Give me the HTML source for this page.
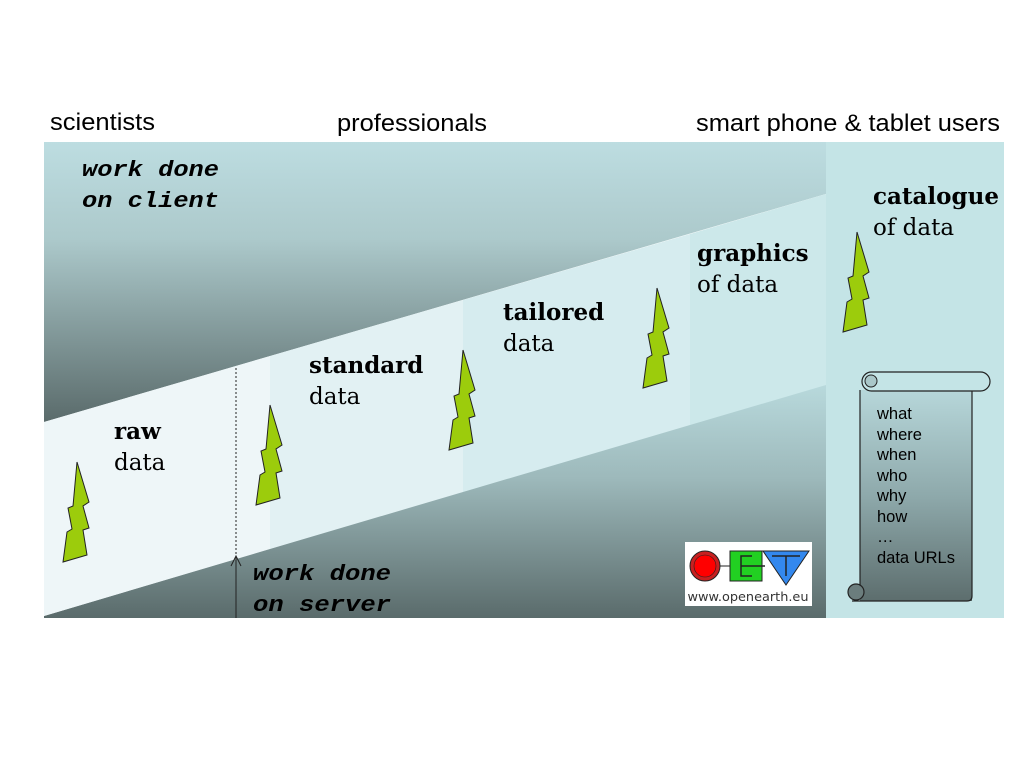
<!DOCTYPE html>
<html><head><meta charset="utf-8"><style>
body{margin:0;width:1024px;height:768px;background:#fff;overflow:hidden}
svg{display:block}
.h{font-family:"Liberation Sans",sans-serif;font-size:24px;fill:#000}
.m{font-family:"Liberation Mono",monospace;font-size:22px;font-weight:bold;font-style:italic;fill:#000}
.s{font-family:"DejaVu Serif","Liberation Serif",serif;font-size:23px;fill:#000}
.b{font-weight:bold}
.sc{font-family:"Liberation Sans",sans-serif;font-size:16.5px;fill:#000}
</style></head><body>
<svg width="1024" height="768" viewBox="0 0 1024 768">
<defs>
<linearGradient id="gu" x1="0" y1="142" x2="0" y2="420" gradientUnits="userSpaceOnUse">
<stop offset="0" stop-color="#bddde1"/><stop offset="0.35" stop-color="#acc9cb"/><stop offset="1" stop-color="#5b6c6c"/></linearGradient>
<linearGradient id="gl" x1="0" y1="385" x2="0" y2="618" gradientUnits="userSpaceOnUse">
<stop offset="0" stop-color="#b8d9dc"/><stop offset="0.4" stop-color="#9db9bb"/><stop offset="1" stop-color="#5a6b6b"/></linearGradient>
<linearGradient id="gs" x1="0" y1="392" x2="0" y2="600" gradientUnits="userSpaceOnUse">
<stop offset="0" stop-color="#b6d6d9"/><stop offset="0.5" stop-color="#8ea9ab"/><stop offset="1" stop-color="#5d6e6e"/></linearGradient>
<polygon id="z" points="0,0 12,40 6,44 12,66 6,68 10,93 -14,100 -10,70 -5,67 -9,46 -4,44" fill="#9ccc0c" stroke="#222" stroke-width="1"/>
</defs>
<text class="h" x="50" y="130" textLength="105" lengthAdjust="spacingAndGlyphs">scientists</text>
<text class="h" x="337" y="131" textLength="150" lengthAdjust="spacingAndGlyphs">professionals</text>
<text class="h" x="696" y="131" textLength="304" lengthAdjust="spacingAndGlyphs">smart phone &amp; tablet users</text>

<polygon points="44,142 1004,142 44,422" fill="url(#gu)"/>
<polygon points="44,618 1004,618 1004,330 44,616" fill="url(#gl)"/>
<polygon points="44,422 270,356 270,549 44,616" fill="#eef6f8"/>
<polygon points="270,356 463,300 463,492 270,549" fill="#e2f1f3"/>
<polygon points="463,300 690,234 690,425 463,492" fill="#d6ecef"/>
<polygon points="690,234 826,194 826,385 690,425" fill="#cce8ea"/>
<rect x="826" y="142" width="178" height="476" fill="#c4e4e6"/>

<line x1="236" y1="368" x2="236" y2="556" stroke="#222" stroke-width="1" stroke-dasharray="2,2"/>
<line x1="236" y1="556" x2="236" y2="618" stroke="#222" stroke-width="1"/>
<polyline points="231,566 236,556 241,566" fill="none" stroke="#222" stroke-width="1"/>

<text class="m" x="82" y="176" textLength="137" lengthAdjust="spacingAndGlyphs">work done</text>
<text class="m" x="82" y="207" textLength="137" lengthAdjust="spacingAndGlyphs">on client</text>
<text class="m" x="253" y="580" textLength="138" lengthAdjust="spacingAndGlyphs">work done</text>
<text class="m" x="253" y="611" textLength="138" lengthAdjust="spacingAndGlyphs">on server</text>

<text class="s b" x="114" y="439">raw</text><text class="s" x="114" y="470">data</text>
<text class="s b" x="309" y="373">standard</text><text class="s" x="309" y="404">data</text>
<text class="s b" x="503" y="320">tailored</text><text class="s" x="503" y="351">data</text>
<text class="s b" x="697" y="261">graphics</text><text class="s" x="697" y="292">of data</text>
<text class="s b" x="873" y="204">catalogue</text><text class="s" x="873" y="235">of data</text>

<use href="#z" x="77" y="462"/>
<use href="#z" x="270" y="405"/>
<use href="#z" x="463" y="350"/>
<use href="#z" x="657" y="288"/>
<use href="#z" x="857" y="232"/>

<!-- scroll -->
<rect x="860" y="390" width="112" height="211" fill="url(#gs)"/>
<path d="M860,390 L860,586 M972,390 L972,596 Q972,601 967,601 L852,601" fill="none" stroke="#222" stroke-width="1.2"/>
<rect x="862" y="372" width="128" height="19" rx="9.5" fill="#c4e4e6" stroke="#222" stroke-width="1.2"/>
<circle cx="871" cy="381" r="6" fill="#aac7c9" stroke="#222"/>
<circle cx="856" cy="592" r="8" fill="#6b7d7d" stroke="#222" stroke-width="1.2"/>
<text class="sc" x="877" y="419">what</text>
<text class="sc" x="877" y="440">where</text>
<text class="sc" x="877" y="460">when</text>
<text class="sc" x="877" y="481">who</text>
<text class="sc" x="877" y="501">why</text>
<text class="sc" x="877" y="522">how</text>
<text class="sc" x="877" y="542">…</text>
<text class="sc" x="877" y="563">data URLs</text>

<!-- logo -->
<rect x="685" y="542" width="127" height="64" fill="#fff"/>
<circle cx="705" cy="566" r="15" fill="#c82020" stroke="#222"/>
<circle cx="705" cy="566" r="11" fill="#f00" stroke="#222" stroke-width="0.6"/>
<line x1="720" y1="566" x2="730" y2="566" stroke="#222"/>
<rect x="730" y="551" width="32" height="30" fill="#22d022" stroke="#222"/>
<path d="M752,556 L741,556 L741,576 L752,576 M741,566 L765,566" fill="none" stroke="#222" stroke-width="1.5"/>
<polygon points="763,551 809,551 786,585" fill="#3388ee" stroke="#222"/>
<path d="M772,556 L800,556 M786,556 L786,576" stroke="#222" stroke-width="1.5"/>
<text x="748" y="601" text-anchor="middle" font-family="DejaVu Sans,sans-serif" font-size="12" fill="#333" textLength="121" lengthAdjust="spacingAndGlyphs">www.openearth.eu</text>
</svg>
</body></html>
